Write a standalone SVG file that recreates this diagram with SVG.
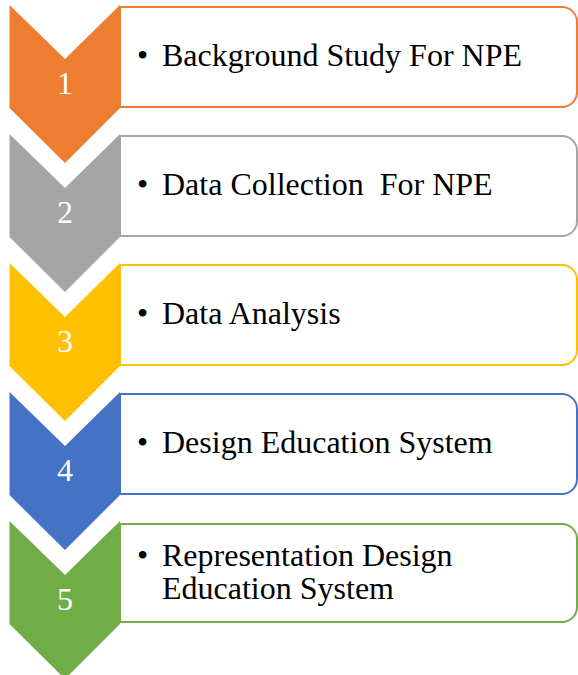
<svg xmlns="http://www.w3.org/2000/svg" width="578" height="675" viewBox="0 0 578 675">
<style>
.box{fill:#ffffff;stroke-width:2}
.num{font-family:"Liberation Serif","Times New Roman",serif;font-size:32px;fill:#ffffff;text-anchor:middle}
.txt{font-family:"Liberation Serif","Times New Roman",serif;font-size:32px;fill:#000000;white-space:pre}
</style>
<rect width="578" height="675" fill="#ffffff"/>
<g id="step1">
<path class="box" stroke="#ED7D31" d="M120,7 H562 A15,15 0 0 1 577,22 V92 A15,15 0 0 1 562,107 H120 Z"/>
<polygon fill="#ED7D31" points="9.5,5 65,59 120,5 120,108 65,163 9.5,108"/>
<text class="num" x="65" y="94">1</text>
<text class="txt" x="137" y="66">•</text>
<text class="txt" x="162" y="66">Background Study For NPE</text>
</g>
<g id="step2">
<path class="box" stroke="#A5A5A5" d="M120,136 H562 A15,15 0 0 1 577,151 V221 A15,15 0 0 1 562,236 H120 Z"/>
<polygon fill="#A5A5A5" points="9.5,134 65,188 120,134 120,237 65,292 9.5,237"/>
<text class="num" x="65" y="223">2</text>
<text class="txt" x="137" y="195">•</text>
<text class="txt" x="162" y="195">Data Collection  For NPE</text>
</g>
<g id="step3">
<path class="box" stroke="#FFC000" d="M120,265 H562 A15,15 0 0 1 577,280 V350 A15,15 0 0 1 562,365 H120 Z"/>
<polygon fill="#FFC000" points="9.5,263 65,317 120,263 120,366 65,421 9.5,366"/>
<text class="num" x="65" y="352">3</text>
<text class="txt" x="137" y="324">•</text>
<text class="txt" x="162" y="324">Data Analysis</text>
</g>
<g id="step4">
<path class="box" stroke="#4472C4" d="M120,394 H562 A15,15 0 0 1 577,409 V479 A15,15 0 0 1 562,494 H120 Z"/>
<polygon fill="#4472C4" points="9.5,392 65,446 120,392 120,495 65,550 9.5,495"/>
<text class="num" x="65" y="481">4</text>
<text class="txt" x="137" y="453">•</text>
<text class="txt" x="162" y="453">Design Education System</text>
</g>
<g id="step5">
<path class="box" stroke="#70AD47" d="M120,524 H562 A15,15 0 0 1 577,539 V607 A15,15 0 0 1 562,622 H120 Z"/>
<polygon fill="#70AD47" points="9.5,521 65,575 120,521 120,624 65,679 9.5,624"/>
<text class="num" x="65" y="610">5</text>
<text class="txt" x="137" y="566">•</text>
<text class="txt" x="162" y="566">Representation Design</text>
<text class="txt" x="162" y="599">Education System</text>
</g>
<g id="connectors"></g>
</svg>
